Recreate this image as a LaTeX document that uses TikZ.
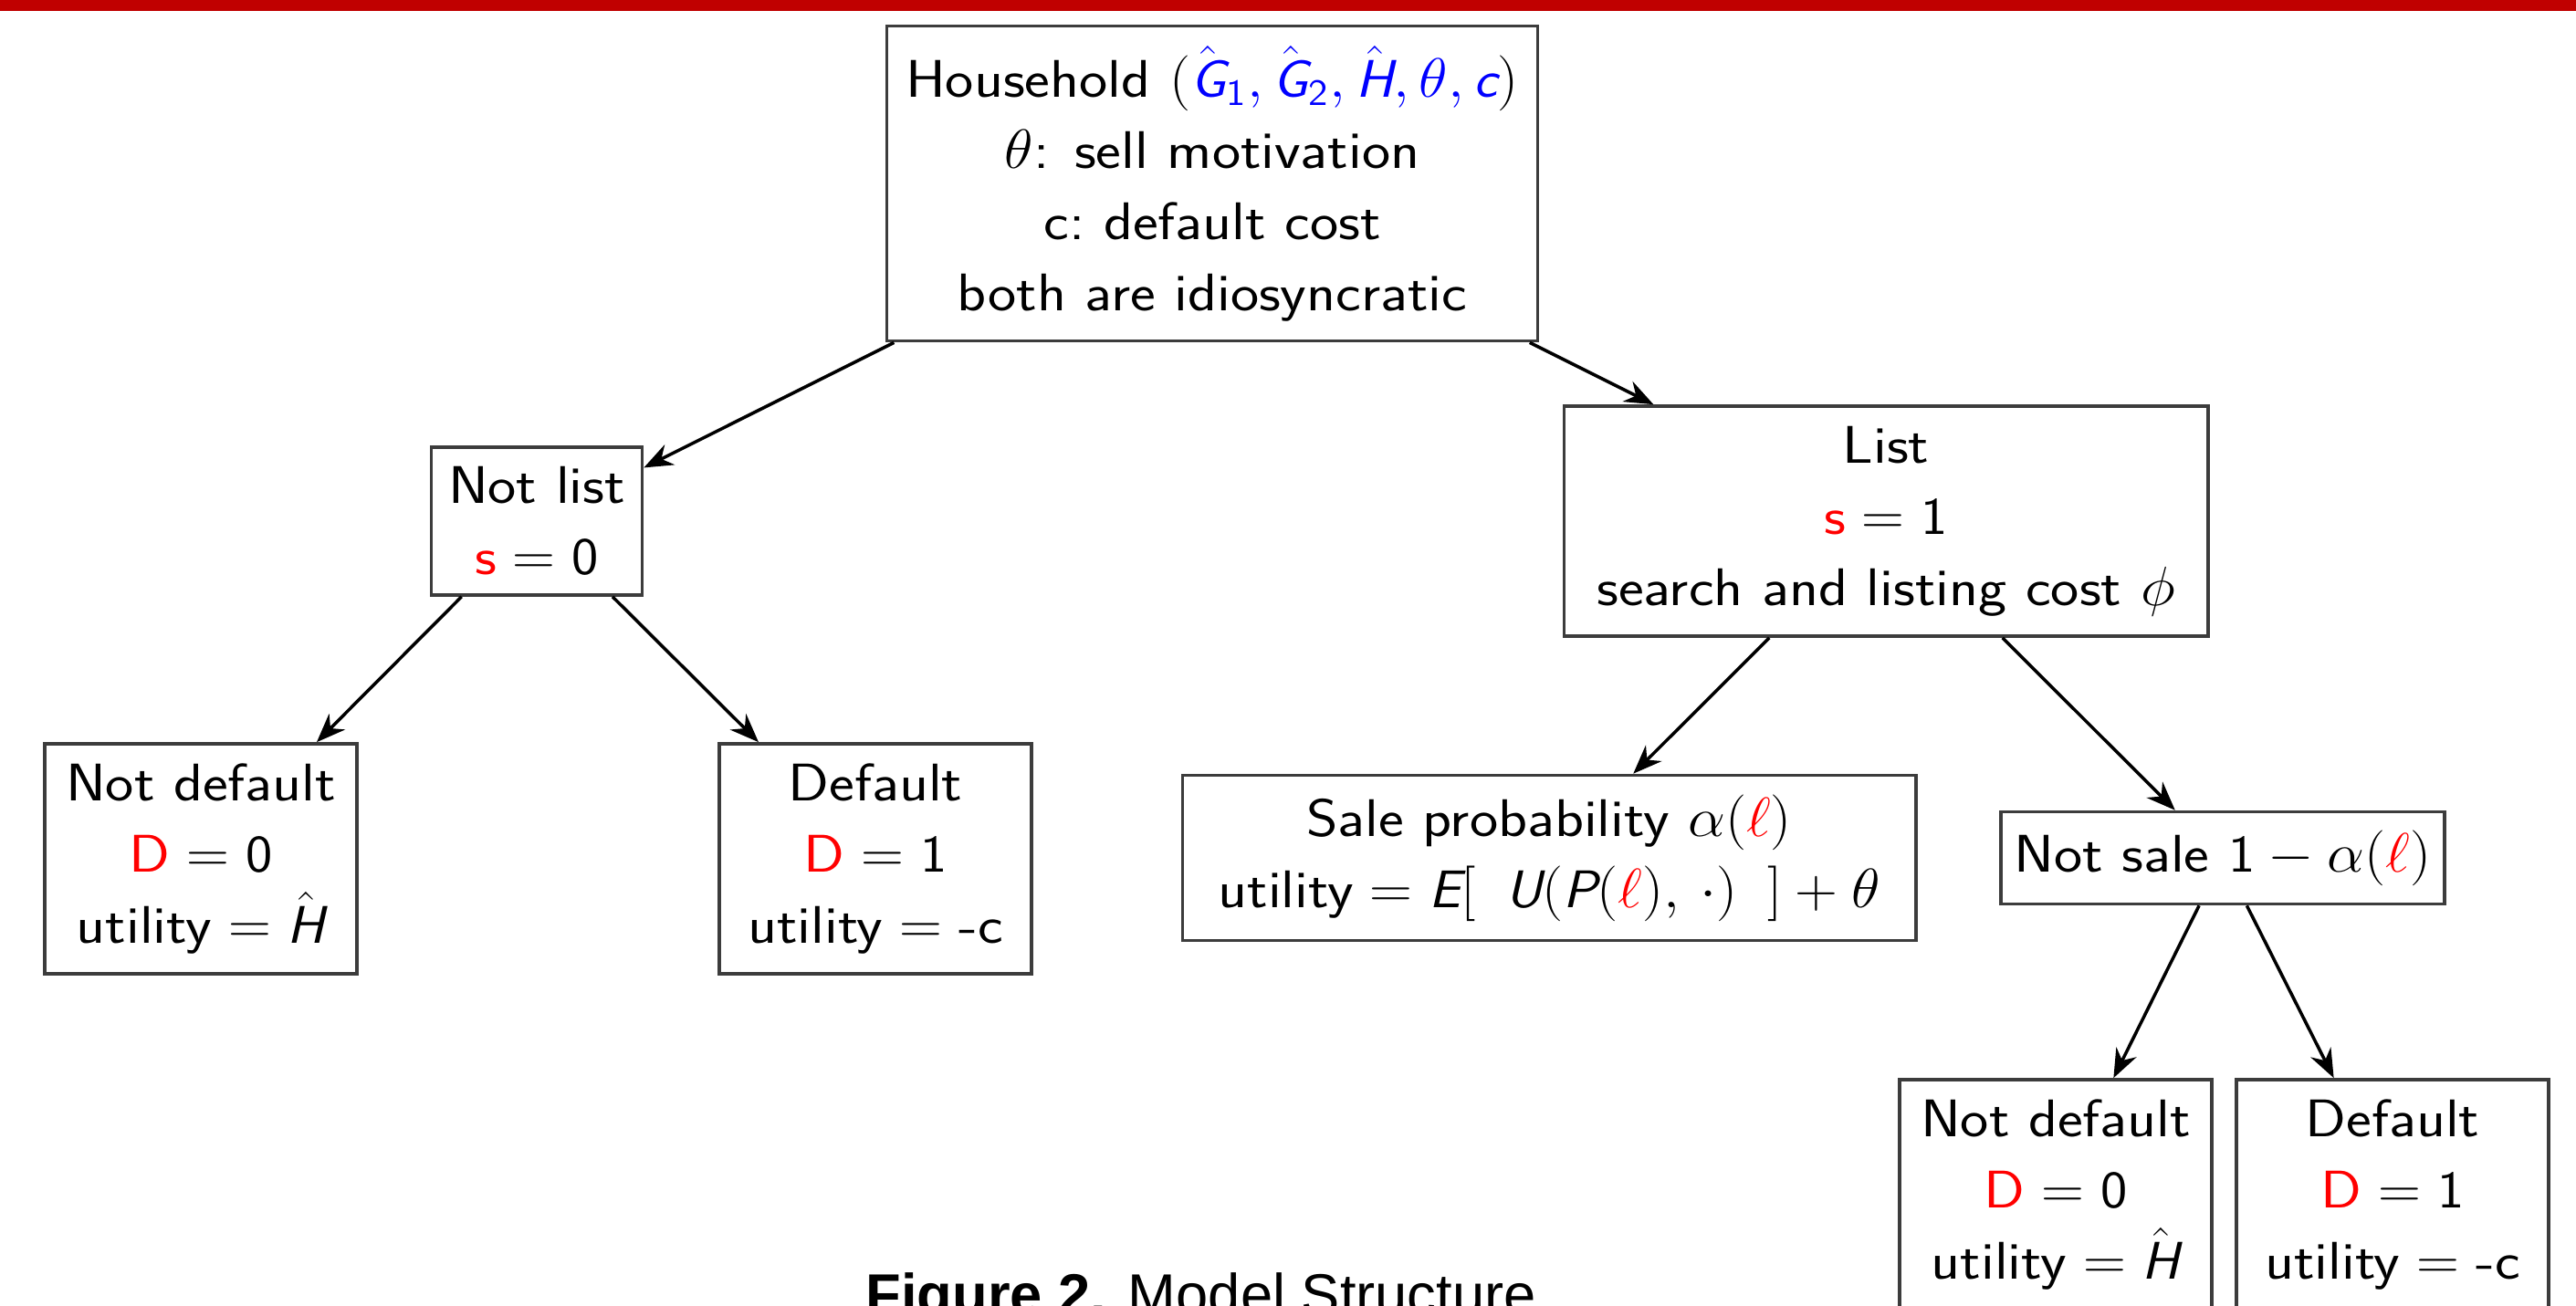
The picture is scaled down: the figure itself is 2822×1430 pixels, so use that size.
\documentclass[tikz,border=0pt]{standalone}
\usepackage{fontspec}
\usepackage{amsmath}
\usepackage{graphicx}
\newfontfamily\capfont{Liberation Sans}
\newfontfamily\boxfont{Latin Modern Sans}[FakeStretch=1.14]
\usetikzlibrary{arrows.meta}
\definecolor{barred}{RGB}{192,0,0}
\definecolor{boxline}{RGB}{60,60,60}
% sans italic letters for symbols
\newcommand\sfv[1]{\text{\sffamily\itshape #1}}
% widened math run
\newcommand\M[1]{\scalebox{1.07}[1]{$#1$}}
\begin{document}
\begin{tikzpicture}[x=0.01cm,y=-0.01cm,
  every node/.style={font=\boxfont\fontsize{16.5}{22.2}\selectfont},
  box/.style={draw=boxline, line width=1pt, align=center, inner sep=0pt},
  link/.style={draw=black, line width=1pt, -{Stealth[length=9pt,width=7pt]}}]
\useasboundingbox (0,0) rectangle (2822,1430);
\fill[barred] (0,0) rectangle (2822,12);

% decision tree
\node[box, minimum width=7.13cm, minimum height=3.45cm] (hh) at (1328,201)
  {Household \M{(\textcolor{blue}{\hat{\sfv{G}}_{\mathsf{1}}, \hat{\sfv{G}}_{\mathsf{2}}, \hat{\sfv{H}}, \theta, \sfv{c}})}\\
   \M{\theta}: sell motivation\\ c:\ default cost\\ both are idiosyncratic};
\node[box, minimum width=2.31cm, minimum height=1.62cm] (nl) at (588,571)
  {Not list\\ \textcolor{red}{s}\M{{}=\mathsf{0}}};
\node[box, minimum width=7.05cm, minimum height=2.52cm] (li) at (2066,571)
  {List\\ \textcolor{red}{s}\M{{}=\mathsf{1}}\\ search and listing cost \M{\phi}};
\node[box, minimum width=3.42cm, minimum height=2.52cm] (ndl) at (220,941)
  {Not default\\ \textcolor{red}{D}\M{{}=\mathsf{0}}\\ utility\M{{}=\hat{\sfv{H}}}};
\node[box, minimum width=3.42cm, minimum height=2.52cm] (dl) at (959,941)
  {Default\\ \textcolor{red}{D}\M{{}=\mathsf{1}}\\ utility\M{{}={}}-c};
\node[box, minimum width=8.03cm, minimum height=1.81cm] (sa) at (1697,940)
  {Sale probability \M{\alpha(\textcolor{red}{\ell})}\\
   utility\M{{}=\sfv{E}[\ \,\sfv{U}(\sfv{P}(\textcolor{red}{\ell}),\,\cdot)\ \,]+\theta}};
\node[box, minimum width=4.86cm, minimum height=1.01cm] (ns) at (2435,940)
  {Not sale \M{\mathsf{1}-\alpha(\textcolor{red}{\ell})}};
\node[box, minimum width=3.42cm, minimum height=2.52cm] (ndr) at (2252,1309)
  {Not default\\ \textcolor{red}{D}\M{{}=\mathsf{0}}\\ utility\M{{}=\hat{\sfv{H}}}};
\node[box, minimum width=3.42cm, minimum height=2.52cm] (dr) at (2621,1309)
  {Default\\ \textcolor{red}{D}\M{{}=\mathsf{1}}\\ utility\M{{}={}}-c};

\draw[link] (hh) -- (nl);
\draw[link] (hh) -- (li);
\draw[link] (nl) -- (ndl);
\draw[link] (nl) -- (dl);
\draw[link] (li) -- (sa);
\draw[link] (li) -- (ns);
\draw[link] (ns) -- (ndr);
\draw[link] (ns) -- (dr);

\node[anchor=base west, inner sep=0pt, font=\capfont\fontsize{18}{22}\selectfont] (cap) at (948,1440)
  {\textbf{Figure 2.} Model Structure};
\end{tikzpicture}
\end{document}
